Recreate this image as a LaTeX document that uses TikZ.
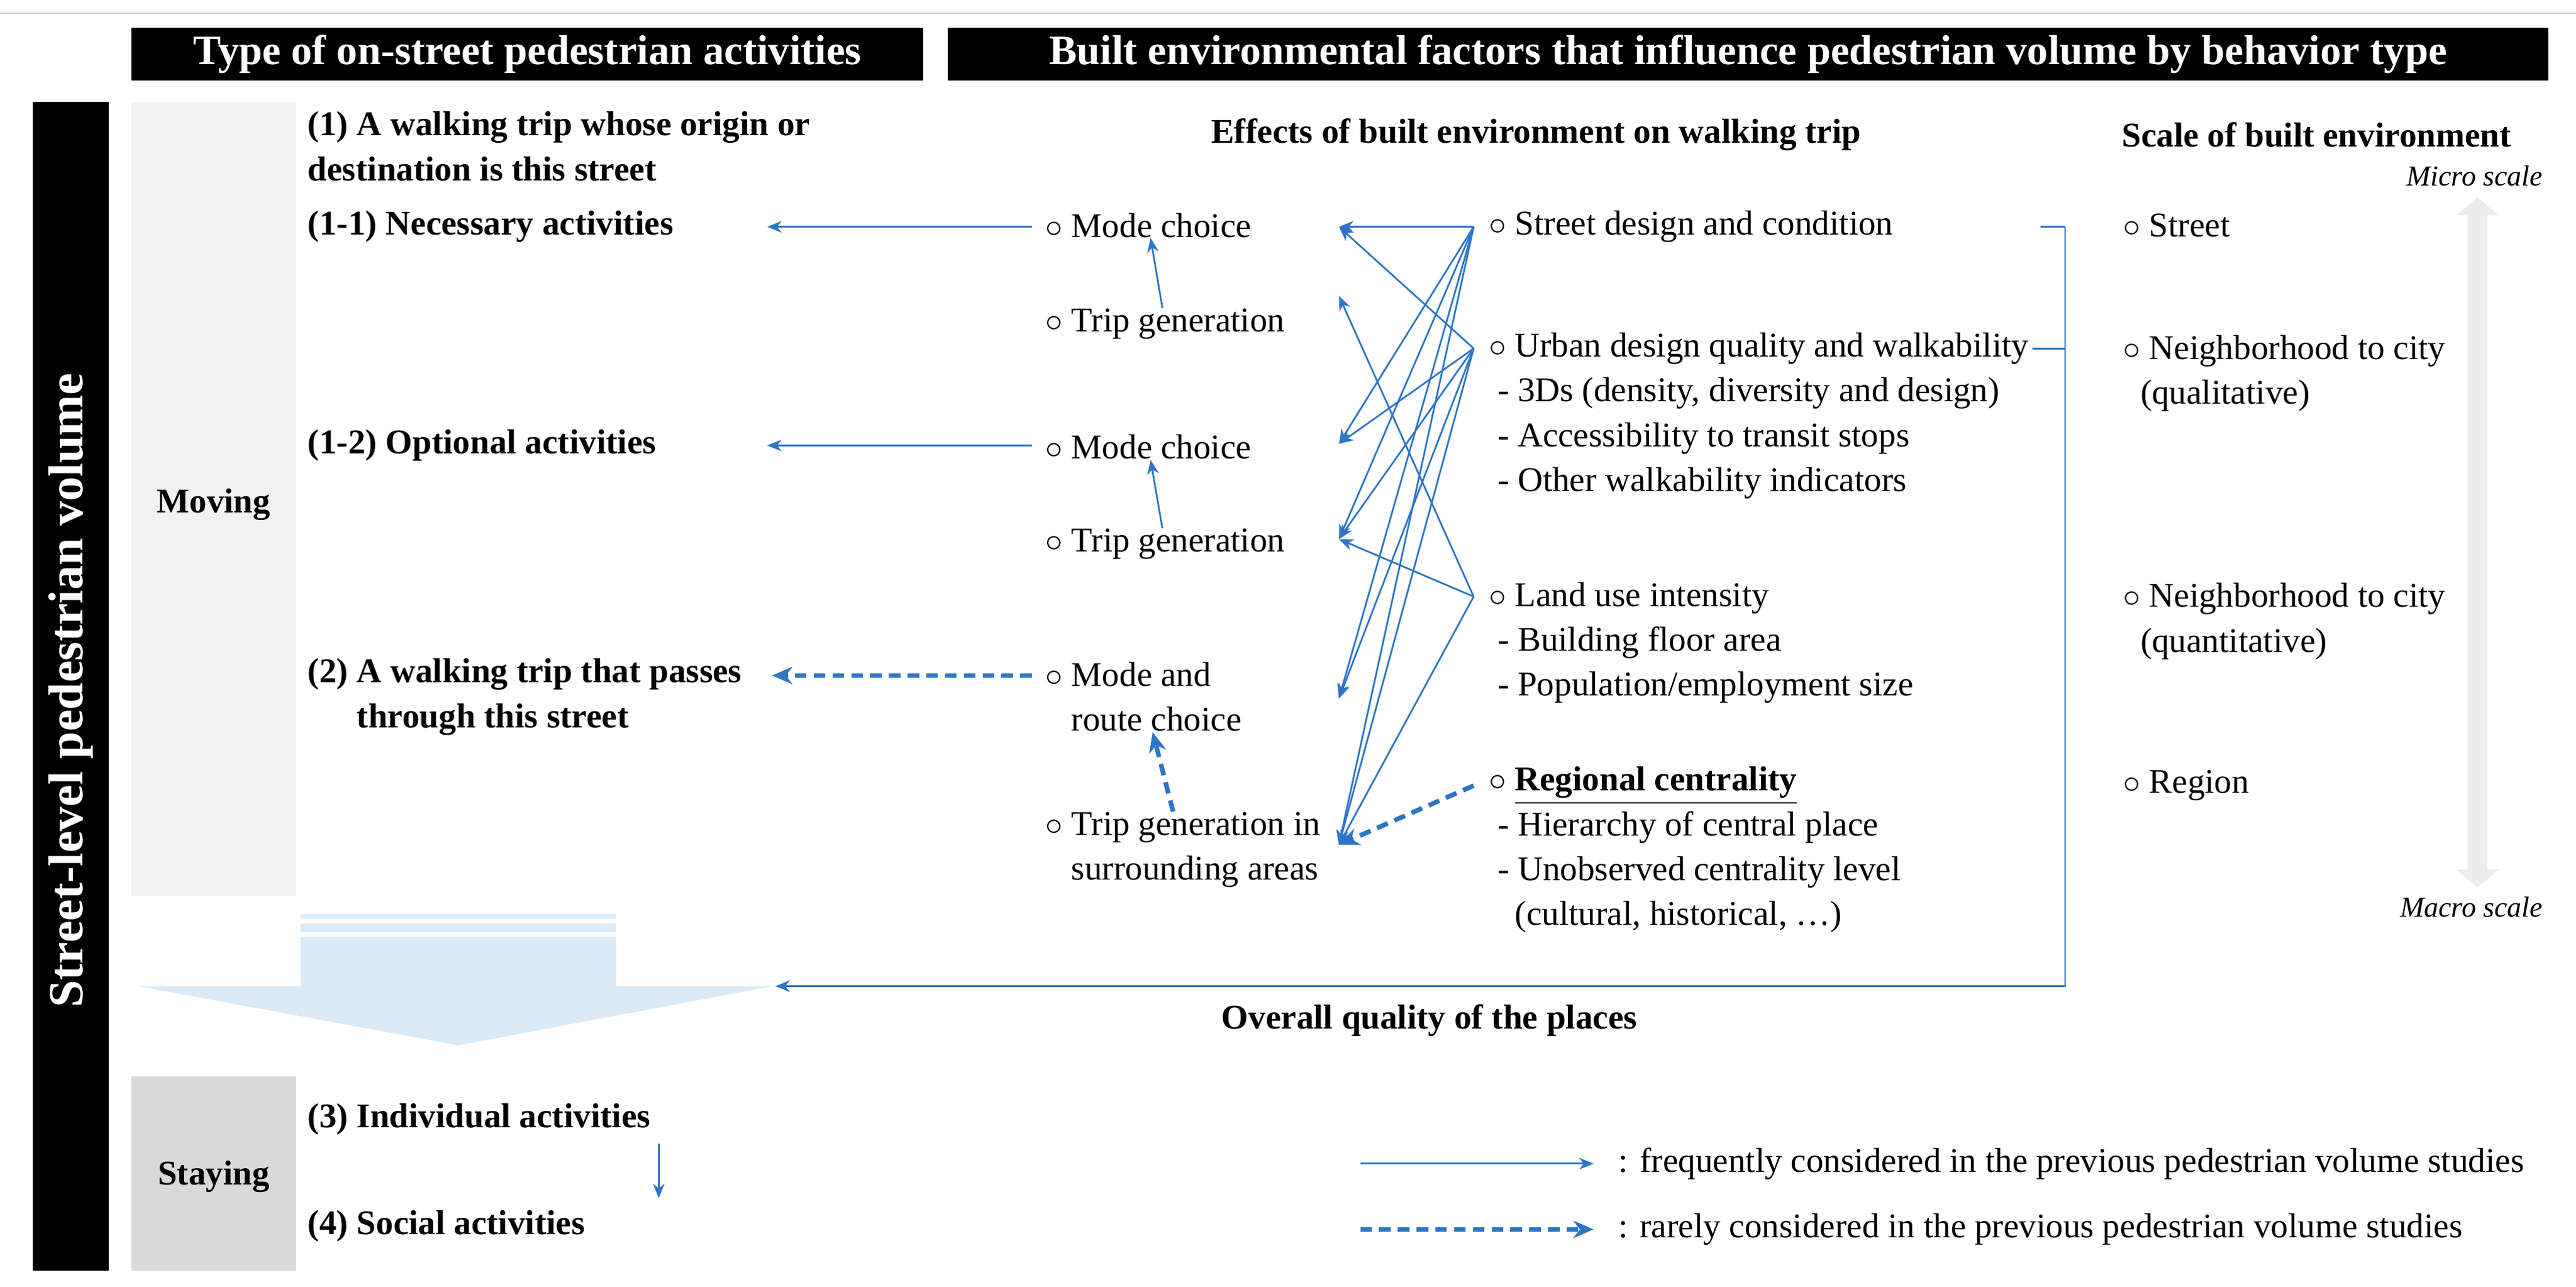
\documentclass[tikz,border=0pt]{standalone}
\usepackage{fontspec}
\setmainfont{Liberation Serif}
\usetikzlibrary{arrows.meta,positioning}
\definecolor{bl}{RGB}{46,117,198}
\definecolor{lightbl}{RGB}{218,234,247}
\definecolor{movgray}{RGB}{242,242,242}
\definecolor{staygray}{RGB}{217,217,217}
\definecolor{scalegray}{RGB}{236,236,236}
\tikzset{
  txt/.style={anchor=west, inner sep=0pt, align=left, font=\fontsize{12}{15.5}\selectfont},
  btxt/.style={anchor=west, inner sep=0pt, align=left, font=\fontsize{12}{15.5}\selectfont\bfseries},
  hdr/.style={fill=black, text=white, font=\fontsize{14.5}{17}\selectfont\bfseries, inner sep=0pt, minimum height=6.4mm},
  freq/.style={draw=bl, line width=0.6pt, -{Stealth[length=5pt,width=4pt]}},
  rare/.style={draw=bl, line width=1.6pt, dash pattern=on 4pt off 2.5pt, -{Stealth[length=7pt,width=6pt]}},
}
\begin{document}
\begin{tikzpicture}[x=0.2mm,y=-0.2mm]
\useasboundingbox (0,0) rectangle (1568,783);
\draw[gray!40, line width=0.4pt] (0,8) -- (1568,8);
% headers
\node[hdr, minimum width=96.4mm] (h1) at (321,33) {Type of on-street pedestrian activities};
\node[hdr, minimum width=194.8mm] (h2) at (1064,33) {Built environmental factors that influence pedestrian volume by behavior type};
\fill[black] (20,62) rectangle (66,773);
\node[rotate=90, text=white, font=\fontsize{17}{20}\selectfont\bfseries] (vol) at (43,420) {Street-level pedestrian volume};
\fill[movgray] (80,62) rectangle (180,545);
\node[btxt, anchor=center] (moving) at (130,307) {Moving};
\fill[staygray] (80,655) rectangle (180,773);
\node[btxt, anchor=center] (staying) at (130,716) {Staying};

% big arrow
\fill[lightbl] (183,556) rectangle (375,559);
\fill[lightbl] (183,562) rectangle (375,567);
\fill[lightbl] (183,570) -- (375,570) -- (375,600) -- (470,600) -- (279,636) -- (84,600) -- (183,600) -- cycle;

% activity types
\node[btxt] (walk) at (187,89) {(1) A walking trip whose origin or\\destination is this street};
\node[btxt] (nec) at (187,138) {(1-1) Necessary activities};
\node[btxt] (opt) at (187,271) {(1-2) Optional activities};
\node[btxt] (pass) at (187,424) {(2) A walking trip that passes\\\phantom{(2) }through this street};
\node[btxt] (indiv) at (187,681) {(3) Individual activities};
\node[btxt] (social) at (187,746) {(4) Social activities};
\coordinate (necE) at (467,138);
\coordinate (optE) at (467,271);
\coordinate (passE) at (470,411);

% effects on walking trip
\node[btxt, anchor=center] (eff) at (935,82) {Effects of built environment on walking trip};
\node[txt] (mc1) at (636,137) {$\circ$ Mode choice};
\node[txt] (tg1) at (636,197) {$\circ$ Trip generation};
\node[txt] (mc2) at (636,272) {$\circ$ Mode choice};
\node[txt] (tg2) at (636,331) {$\circ$ Trip generation};
\node[txt] (mr) at (636,424) {$\circ$ Mode and\\\phantom{$\circ$ }route choice};
\node[txt] (tgs) at (636,517) {$\circ$ Trip generation in\\\phantom{$\circ$ }surrounding areas};
\coordinate (mc1W) at (628,138);
\coordinate (mc2W) at (628,271);
\coordinate (mrW) at (628,411);
\coordinate (mc1E) at (815,138);
\coordinate (tg1E) at (815,180);
\coordinate (mc2E) at (815,270);
\coordinate (tg2E) at (815,328);
\coordinate (mrE) at (815,425);
\coordinate (tgsE) at (815,514);

% built environment factors
\node[txt] (street) at (906,138) {$\circ$ Street design and condition};
\node[txt] (urban) at (906,253) {$\circ$ Urban design quality and walkability\\\ - 3Ds (density, diversity and design)\\\ - Accessibility to transit stops\\\ - Other walkability indicators};
\node[txt] (land) at (906,391) {$\circ$ Land use intensity\\\ - Building floor area\\\ - Population/employment size};
\node[txt] (region) at (906,517) {$\circ$ \underline{\textbf{Regional centrality}}\\\ - Hierarchy of central place\\\ - Unobserved centrality level\\\ \ \ (cultural, historical, \dots)};
\coordinate (streetW) at (897,138);
\coordinate (urbanW) at (897,212);
\coordinate (landW) at (897,363);
\coordinate (regionW) at (897,478);

% scale
\node[btxt, anchor=center] (scale) at (1410,82) {Scale of built environment};
\node[txt] (sstreet) at (1292,137) {$\circ$ Street};
\node[txt] (snq) at (1292,227) {$\circ$ Neighborhood to city\\\ \ (qualitative)};
\node[txt] (snn) at (1292,378) {$\circ$ Neighborhood to city\\\ \ (quantitative)};
\node[txt] (sregion) at (1292,478) {$\circ$ Region};
\node[anchor=east, inner sep=0pt, font=\fontsize{10}{12}\selectfont\itshape] (micro) at (1548,107) {Micro scale};
\node[anchor=east, inner sep=0pt, font=\fontsize{10}{12}\selectfont\itshape] (macro) at (1548,552) {Macro scale};
\fill[scalegray] (1508,120) -- (1521,131) -- (1514,131) -- (1514,529) -- (1521,529) -- (1508,540)
  -- (1495,529) -- (1502,529) -- (1502,131) -- (1495,131) -- cycle;

% connectors
\draw[freq] (mc1W) -- (necE);
\draw[freq] (mc2W) -- (optE);
\draw[rare] (mrW) -- (passE);
\draw[freq] (tg1) -- (mc1);
\draw[freq] (tg2) -- (mc2);
\draw[rare] (tgs) -- (mr);
\foreach \t in {mc1E,mc2E,tg2E,mrE,tgsE}{
  \draw[freq] (streetW) -- (\t);
  \draw[freq] (urbanW) -- (\t);
}
\foreach \t in {tg1E,tg2E,tgsE}{
  \draw[freq] (landW) -- (\t);
}
\draw[rare] (regionW) -- (tgsE);
\draw[freq] (indiv.south -| 401,0) ++(0,5) coordinate (iS) -- (401,729) coordinate (sN);

% overall quality
\coordinate (qTop) at (1257,138);
\coordinate (qBot) at (1257,600);
\coordinate (qEnd) at (472,600);
\draw[bl, line width=0.6pt] (1242,138) -- (qTop);
\draw[bl, line width=0.6pt] (urban.north east |- 0,212) ++(2,0) -- (1257,212);
\draw[freq] (qTop) -- (qBot) -- (qEnd);
\node[btxt, anchor=center] (quality) at (870,621) {Overall quality of the places};

% legend
\coordinate (l1a) at (828,708);
\coordinate (l1b) at (970,708);
\coordinate (l2a) at (828,748);
\coordinate (l2b) at (970,748);
\draw[freq] (l1a) -- (l1b);
\draw[rare] (l2a) -- (l2b);
\node[txt] (leg1) at (985,708) {: frequently considered in the previous pedestrian volume studies};
\node[txt] (leg2) at (985,748) {: rarely considered in the previous pedestrian volume studies};
\end{tikzpicture}
\end{document}
